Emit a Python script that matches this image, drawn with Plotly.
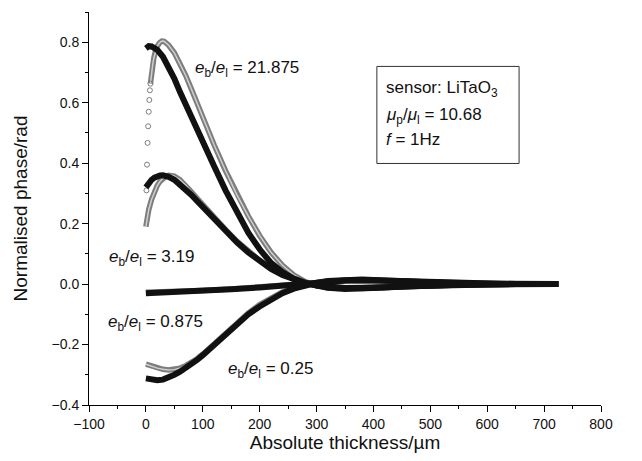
import plotly.graph_objects as go

# ---- data ----
# e_b/e_l = 21.875
xA_black = [0, 5, 10, 20, 30, 40, 50, 60, 70, 80, 90, 100, 110, 120, 140, 160, 180, 200, 220, 240, 260, 280, 300, 320, 350, 380, 420, 460, 500, 550, 600, 650, 725]
yA_black = [0.78, 0.787, 0.786, 0.775, 0.752, 0.72, 0.68, 0.635, 0.593, 0.55, 0.507, 0.465, 0.427, 0.39, 0.31, 0.235, 0.17, 0.115, 0.07, 0.04, 0.018, 0.004, -0.006, -0.012, -0.016, -0.015, -0.011, -0.007, -0.004, -0.002, -0.001, 0.0, 0.0]
xA_grey_dots = [1, 2, 3, 4, 5, 6, 7, 8]
yA_grey_dots = [0.31, 0.395, 0.467, 0.522, 0.570, 0.609, 0.641, 0.663]
xA_grey = [8, 10, 12, 14, 16, 18, 20, 24, 28, 32, 40, 50, 60, 70, 80, 90, 100, 110, 120, 140, 160, 180, 200, 220, 240, 260, 280, 300, 320, 350, 380, 420, 460, 500, 550, 600, 650, 725]
yA_grey = [0.663, 0.70, 0.727, 0.748, 0.764, 0.777, 0.787, 0.798, 0.804, 0.803, 0.79, 0.765, 0.73, 0.69, 0.645, 0.598, 0.55, 0.505, 0.46, 0.375, 0.295, 0.225, 0.16, 0.105, 0.062, 0.03, 0.008, -0.006, -0.013, -0.016, -0.015, -0.011, -0.007, -0.004, -0.002, -0.001, 0.0, 0.0]

# e_b/e_l = 3.19
xB_black = [0, 5, 10, 15, 20, 25, 30, 35, 40, 50, 60, 70, 80, 90, 100, 120, 140, 160, 180, 200, 220, 240, 260, 280, 300, 320, 350, 380, 420, 460, 500, 550, 600, 650, 725]
yB_black = [0.32, 0.335, 0.345, 0.352, 0.357, 0.359, 0.36, 0.359, 0.355, 0.345, 0.33, 0.313, 0.295, 0.275, 0.255, 0.215, 0.175, 0.138, 0.105, 0.075, 0.05, 0.03, 0.014, 0.003, -0.005, -0.01, -0.013, -0.013, -0.01, -0.006, -0.004, -0.002, -0.001, 0.0, 0.0]
xB_grey = [0, 2, 5, 10, 15, 20, 25, 30, 35, 40, 45, 50, 60, 70, 80, 90, 100, 120, 140, 160, 180, 200, 220, 240, 260, 280, 300, 320, 350, 380, 420, 460, 500, 550, 600, 650, 725]
yB_grey = [0.19, 0.218, 0.246, 0.28, 0.306, 0.326, 0.34, 0.35, 0.356, 0.36, 0.36, 0.357, 0.345, 0.327, 0.305, 0.284, 0.262, 0.22, 0.18, 0.142, 0.108, 0.078, 0.052, 0.031, 0.015, 0.004, -0.004, -0.009, -0.012, -0.012, -0.009, -0.006, -0.004, -0.002, -0.001, 0.0, 0.0]

# e_b/e_l = 0.875
xC_black = [0, 50, 100, 150, 200, 250, 290, 320, 350, 400, 450, 500, 550, 600, 650, 725]
yC_black = [-0.03, -0.027, -0.023, -0.017, -0.011, -0.004, 0.002, 0.008, 0.012, 0.013, 0.01, 0.006, 0.003, 0.001, 0.0, 0.0]
xC_grey = [0, 50, 100, 150, 200, 250, 290, 320, 350, 400, 450, 500, 550, 600, 650, 725]
yC_grey = [-0.027, -0.025, -0.021, -0.016, -0.01, -0.003, 0.003, 0.008, 0.011, 0.012, 0.009, 0.006, 0.003, 0.001, 0.0, 0.0]

# e_b/e_l = 0.25
xD_black = [0, 10, 20, 30, 40, 50, 60, 70, 80, 90, 100, 120, 148, 160, 180, 200, 220, 240, 260, 280, 300, 320, 350, 380, 420, 460, 500, 550, 600, 650, 725]
yD_black = [-0.312, -0.316, -0.318, -0.316, -0.31, -0.3, -0.29, -0.278, -0.265, -0.251, -0.235, -0.2, -0.151, -0.13, -0.1, -0.074, -0.05, -0.03, -0.015, -0.004, 0.004, 0.01, 0.014, 0.015, 0.012, 0.008, 0.005, 0.002, 0.001, 0.0, 0.0]
xD_grey = [0, 10, 20, 30, 40, 50, 60, 70, 80, 90, 100, 120, 140, 160, 180, 200, 220, 240, 260, 280, 300, 320, 350, 380, 420, 460, 500, 550, 600, 650, 725]
yD_grey = [-0.265, -0.272, -0.278, -0.282, -0.284, -0.283, -0.278, -0.27, -0.26, -0.247, -0.232, -0.198, -0.163, -0.128, -0.096, -0.068, -0.045, -0.026, -0.012, -0.002, 0.005, 0.01, 0.013, 0.014, 0.011, 0.008, 0.005, 0.002, 0.001, 0.0, 0.0]

x_ticks = [-100, 0, 100, 200, 300, 400, 500, 600, 700, 800]
y_ticks = [-0.4, -0.2, 0.0, 0.2, 0.4, 0.6, 0.8]

labels = [
    ("<i>e</i><sub>b</sub>/<i>e</i><sub>l</sub> = 21.875", 83, 0.71),
    ("<i>e</i><sub>b</sub>/<i>e</i><sub>l</sub> = 3.19", -68, 0.087),
    ("<i>e</i><sub>b</sub>/<i>e</i><sub>l</sub> = 0.875", -70, -0.128),
    ("<i>e</i><sub>b</sub>/<i>e</i><sub>l</sub> = 0.25", 141, -0.284),
]
box_lines = [
    ("sensor: LiTaO<sub>3</sub>", 0.644),
    ("<i>μ</i><sub>p</sub>/<i>μ</i><sub>l</sub> = 10.68", 0.557),
    ("<i>f</i> = 1Hz", 0.478),
]

GREY = "#7d7d7d"
GREY_IN = "#cfcfcf"
BLACK = "#111111"
FONT = "Liberation Sans, Arial, sans-serif"

fig = go.Figure()

def grey_band(x, y):
    fig.add_trace(go.Scatter(x=x, y=y, mode="lines", line=dict(color=GREY, width=5.5),
                             showlegend=False, hoverinfo="skip"))
    fig.add_trace(go.Scatter(x=x, y=y, mode="lines", line=dict(color=GREY_IN, width=1.5),
                             showlegend=False, hoverinfo="skip"))

def black_band(x, y):
    fig.add_trace(go.Scatter(x=x, y=y, mode="lines", line=dict(color=BLACK, width=6),
                             showlegend=False, hoverinfo="skip"))

grey_band(xA_grey, yA_grey)
grey_band(xB_grey, yB_grey)
grey_band(xC_grey, yC_grey)
grey_band(xD_grey, yD_grey)
fig.add_trace(go.Scatter(x=xA_grey_dots, y=yA_grey_dots, mode="markers",
                         marker=dict(symbol="circle-open", size=5, color=GREY, line=dict(width=1)),
                         showlegend=False, hoverinfo="skip"))
black_band(xA_black, yA_black)
black_band(xB_black, yB_black)
black_band(xC_black, yC_black)
black_band(xD_black, yD_black)

for txt, x, y in labels:
    fig.add_annotation(x=x, y=y, xref="x", yref="y", text=txt, showarrow=False,
                       xanchor="left", yanchor="middle", font=dict(size=17, color="#111", family=FONT))

fig.add_shape(type="rect", xref="x", yref="y", x0=406, x1=656, y0=0.399, y1=0.72,
              line=dict(color="#333", width=1), fillcolor="rgba(0,0,0,0)")
for txt, y in box_lines:
    fig.add_annotation(x=419, y=y, xref="x", yref="y", text=txt, showarrow=False,
                       xanchor="left", yanchor="middle", font=dict(size=17, color="#111", family=FONT))

axis_common = dict(showline=True, linecolor="black", linewidth=1, ticks="outside", ticklen=6,
                   tickcolor="black", tickwidth=1, showgrid=False, zeroline=False, automargin=False,
                   tickfont=dict(size=14, color="#111", family=FONT))

fig.update_xaxes(range=[-100, 800], tickvals=x_ticks, ticktext=[f"{v}".replace("-", "−") for v in x_ticks],
                 minor=dict(ticks="outside", ticklen=3, dtick=50, tick0=0, tickcolor="black", showgrid=False),
                 title=dict(text="Absolute thickness/µm", font=dict(size=19, color="#111", family=FONT), standoff=4),
                 **axis_common)
fig.update_yaxes(range=[-0.4, 0.9], tickvals=y_ticks, ticktext=[f"{v:.1f}".replace("-", "−") for v in y_ticks],
                 minor=dict(ticks="outside", ticklen=3, dtick=0.1, tick0=0, tickcolor="black", showgrid=False),
                 title=dict(text="Normalised phase/rad", font=dict(size=19, color="#111", family=FONT), standoff=18),
                 **axis_common)

# the page body has an 8px default margin, so the figure is sized to fit the 642x461 window
fig.update_layout(width=634, height=453, margin=dict(l=81, r=41, t=4, b=56),
                  plot_bgcolor="white", paper_bgcolor="white", font=dict(family=FONT))

fig.write_html("out.html")
